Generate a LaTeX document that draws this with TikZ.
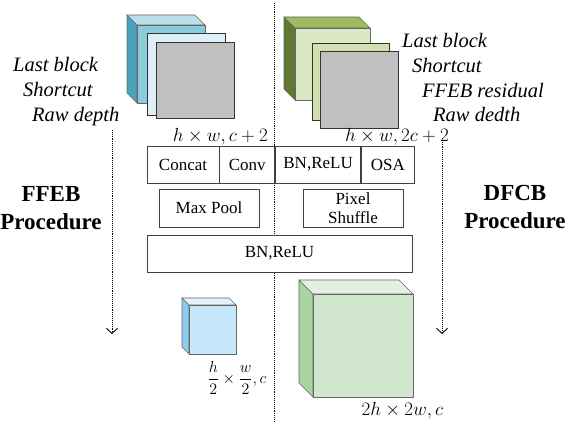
\documentclass[tikz,border=0pt]{standalone}
\usepackage{fix-cm}
\usepackage{amsmath}
\usepackage{fontspec}
\setmainfont{LiberationSerif}[Extension=.ttf, UprightFont=*-Regular, BoldFont=*-Bold,
  ItalicFont=*-Italic, BoldItalicFont=*-BoldItalic]
\usetikzlibrary{positioning,arrows.meta}

\definecolor{bluside}{HTML}{4AA3BD}
\definecolor{blutop}{HTML}{B9E0EA}
\definecolor{blufront}{HTML}{8CCBDB}
\definecolor{blulayer}{HTML}{DEF0F5}
\definecolor{grnside}{HTML}{5F7A2E}
\definecolor{grntop}{HTML}{9DBB61}
\definecolor{grnfront}{HTML}{DBE8C4}
\definecolor{grnlayer}{HTML}{D0E0B0}
\definecolor{smfront}{HTML}{C6E6FA}
\definecolor{smtop}{HTML}{E2F1FC}
\definecolor{smside}{HTML}{8FCAF0}
\definecolor{bgfront}{HTML}{D0E6CD}
\definecolor{bgtop}{HTML}{E4F1E2}
\definecolor{bgside}{HTML}{A8D5A0}
\definecolor{mapgray}{HTML}{C0C0C0}

% x, y, width, height, depth, front, top, side
\newcommand{\drawcube}[8]{%
  \filldraw[fill=#8, draw=black!60, line width=0.6pt]
    (#1,#2) -- ({#1-#5},{#2-#5}) -- ({#1-#5},{#2+#4-#5}) -- (#1,{#2+#4}) -- cycle;
  \filldraw[fill=#7, draw=black!60, line width=0.6pt]
    (#1,#2) -- ({#1-#5},{#2-#5}) -- ({#1+#3-#5},{#2-#5}) -- ({#1+#3},#2) -- cycle;
  \filldraw[fill=#6, draw=black!60, line width=0.6pt]
    (#1,#2) rectangle ({#1+#3},{#2+#4});
}

\tikzset{
  opbox/.style={draw=black!75, fill=white, line width=0.8pt, minimum height=37pt,
    inner sep=0pt, align=center, font=\fontsize{17}{19}\selectfont},
  note/.style={font=\fontsize{20.5}{24}\selectfont\itshape, anchor=base west, inner sep=0pt},
  proc/.style={font=\fontsize{23}{27}\selectfont\bfseries, anchor=base, inner sep=0pt},
  dim/.style={font=\fontsize{19}{22}\selectfont, inner sep=0pt},
  layer/.style={draw=black!80, line width=0.9pt},
  flow/.style={densely dotted, line width=0.9pt, -{Straight Barb[length=5pt,width=11pt]}},
}

\begin{document}
\begin{tikzpicture}[x=1pt, y=-1pt]
\useasboundingbox (0,0) rectangle (574,433);

% divider and procedure arrows
\coordinate (midtop) at (274,3);
\coordinate (midbot) at (274,422);
\draw[densely dotted, line width=0.9pt] (midtop) -- (midbot);

\coordinate (ffebtop) at (112,130);
\coordinate (ffebbot) at (112,334);
\coordinate (dfcbtop) at (442,138);
\coordinate (dfcbbot) at (442,334);
\draw[flow] (ffebtop) -- (ffebbot);
\draw[flow] (dfcbtop) -- (dfcbbot);

% input feature stacks
\drawcube{137}{25}{68}{78}{10}{blufront}{blutop}{bluside}
\filldraw[layer, fill=blulayer] (147,33) rectangle (225,115);
\filldraw[layer, fill=mapgray] (156,42) rectangle (234,118);

\drawcube{295}{28}{75}{72}{11}{grnfront}{grntop}{grnside}
\filldraw[layer, fill=grnlayer] (312,43) rectangle (389,120);
\filldraw[layer, fill=mapgray] (320,51) rectangle (398,128);

% output cubes
\drawcube{189}{305}{47}{49}{7}{smfront}{smtop}{smside}
\drawcube{313}{294}{100}{103}{14}{bgfront}{bgtop}{bgside}

% input notes
\node[note] (lb1) at (13,72) {Last block};
\node[note] (sc1) at (23,97) {Shortcut};
\node[note] (rd1) at (32,122) {Raw depth};

\node[note] (lb2) at (402,48) {Last block};
\node[note] (sc2) at (412,73) {Shortcut};
\node[note] (fr2) at (422,98) {FFEB residual};
\node[note] (rd2) at (433,122) {Raw dedth};

% procedure titles
\node[proc] (ffeb) at (51,202) {FFEB};
\node[proc] (ffebp) at (51,230) {Procedure};
\node[proc] (dfcb) at (515,201) {DFCB};
\node[proc] (dfcbp) at (515,229) {Procedure};

% sizes
\node[dim, anchor=base east] (szin1) at (268,142) {$h\times w, c+2$};
\node[dim, anchor=base east] (szin2) at (449,142) {$h\times w, 2c+2$};
\node[dim, font=\fontsize{16}{19}\selectfont] (szout1) at (237,378) {$\dfrac{h}{2}\times\dfrac{w}{2},c$};
\node[dim, anchor=base] (szout2) at (402.5,415) {$2h\times 2w, c$};

% operations
\node[opbox, minimum width=72pt] (concat) at (183,164.5) {Concat};
\node[opbox, minimum width=55pt, right=0pt of concat] (conv) {Conv};
\node[opbox, minimum width=85pt, right=0pt of conv] (bnrelu) {BN,ReLU};
\node[opbox, minimum width=53pt, right=0pt of bnrelu] (osa) {OSA};

\node[opbox, minimum width=100pt, minimum height=38pt] (maxpool) at (209,208) {Max Pool};
\node[opbox, minimum width=100pt, minimum height=38pt] (shuffle) at (353,208) {Pixel\\Shuffle};

\node[opbox, minimum width=265pt] (bnrelu2) at (279.5,253.5) {BN,ReLU};
\end{tikzpicture}
\end{document}
